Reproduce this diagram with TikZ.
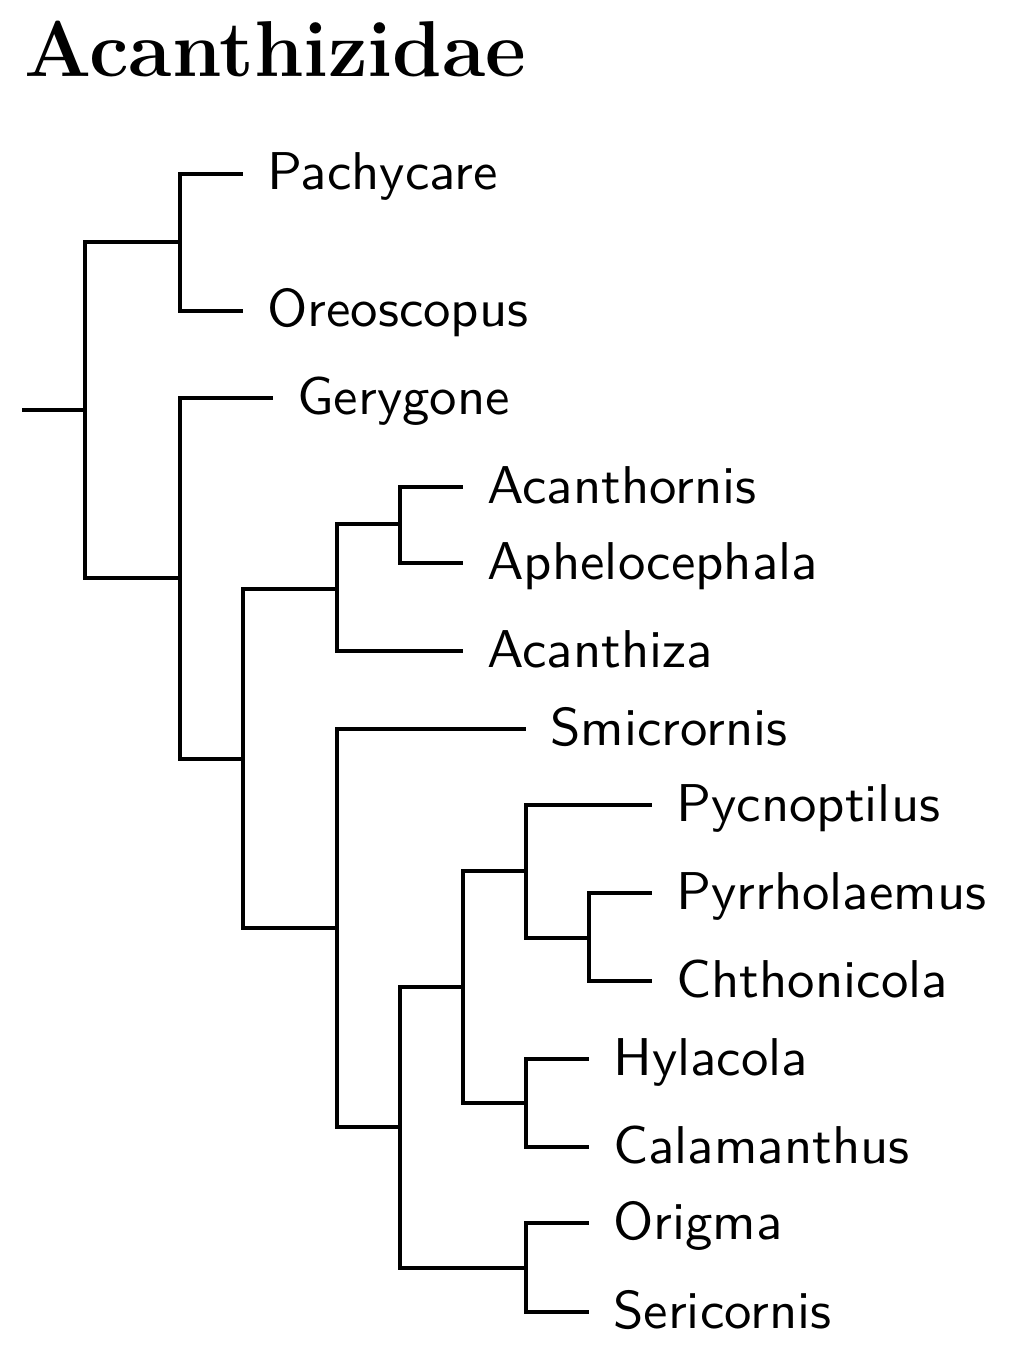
\documentclass[tikz,border=0pt]{standalone}
\usepackage{fontspec}
\newfontfamily\leaffont{lmsans10-regular.otf}[FakeStretch=1.03]
\begin{document}
\begin{tikzpicture}[x=0.5pt,y=-0.5pt,
  branch/.style={line width=2pt,line join=miter},
  leaf/.style={anchor=base west,inner sep=0pt,xshift=12pt,yshift=-8pt,font=\leaffont\fontsize{26.6}{32}\selectfont},
  title/.style={anchor=base west,inner sep=0pt,font=\bfseries\fontsize{39.6}{46}\selectfont}]
\useasboundingbox (0,0) rectangle (1008,1358);
\node[title] (t) at (24,77) {Acanthizidae};
% internal nodes
\coordinate (root) at (22,410);
\coordinate (n1) at (85,410);
\coordinate (n2) at (180,242);
\coordinate (n3) at (180,578);
\coordinate (n4) at (243,759);
\coordinate (n5) at (337,589);
\coordinate (n6) at (400,524);
\coordinate (n7) at (337,928);
\coordinate (n8) at (400,1127);
\coordinate (n9) at (463,987);
\coordinate (n10) at (526,871);
\coordinate (n11) at (589,938);
\coordinate (n12) at (526,1103);
\coordinate (n13) at (526,1268);
% leaf ends
\coordinate (ePachycare) at (243,174);
\coordinate (eOreoscopus) at (243,311);
\coordinate (eGerygone) at (273,398);
\coordinate (eAcanthornis) at (463,487);
\coordinate (eAphelocephala) at (463,563);
\coordinate (eAcanthiza) at (463,651);
\coordinate (eSmicrornis) at (526,729);
\coordinate (ePycnoptilus) at (652,805);
\coordinate (ePyrrholaemus) at (652,893);
\coordinate (eChthonicola) at (652,981);
\coordinate (eHylacola) at (589,1059);
\coordinate (eCalamanthus) at (589,1147);
\coordinate (eOrigma) at (589,1223);
\coordinate (eSericornis) at (589,1312);
% labels
\foreach \n in {Pachycare,Oreoscopus,Gerygone,Acanthornis,Aphelocephala,Acanthiza,Smicrornis,Pycnoptilus,Pyrrholaemus,Chthonicola,Hylacola,Calamanthus,Origma,Sericornis}
  \node[leaf] (\n) at (e\n) {\n};
% branches
\draw[branch] (root) -- (n1);
\draw[branch] (n1) |- (n2);
\draw[branch] (n1) |- (n3);
\draw[branch] (n2) |- (ePachycare);
\draw[branch] (n2) |- (eOreoscopus);
\draw[branch] (n3) |- (eGerygone);
\draw[branch] (n3) |- (n4);
\draw[branch] (n4) |- (n5);
\draw[branch] (n4) |- (n7);
\draw[branch] (n5) |- (n6);
\draw[branch] (n5) |- (eAcanthiza);
\draw[branch] (n6) |- (eAcanthornis);
\draw[branch] (n6) |- (eAphelocephala);
\draw[branch] (n7) |- (eSmicrornis);
\draw[branch] (n7) |- (n8);
\draw[branch] (n8) |- (n9);
\draw[branch] (n8) |- (n13);
\draw[branch] (n9) |- (n10);
\draw[branch] (n9) |- (n12);
\draw[branch] (n10) |- (ePycnoptilus);
\draw[branch] (n10) |- (n11);
\draw[branch] (n11) |- (ePyrrholaemus);
\draw[branch] (n11) |- (eChthonicola);
\draw[branch] (n12) |- (eHylacola);
\draw[branch] (n12) |- (eCalamanthus);
\draw[branch] (n13) |- (eOrigma);
\draw[branch] (n13) |- (eSericornis);
\end{tikzpicture}
\end{document}
